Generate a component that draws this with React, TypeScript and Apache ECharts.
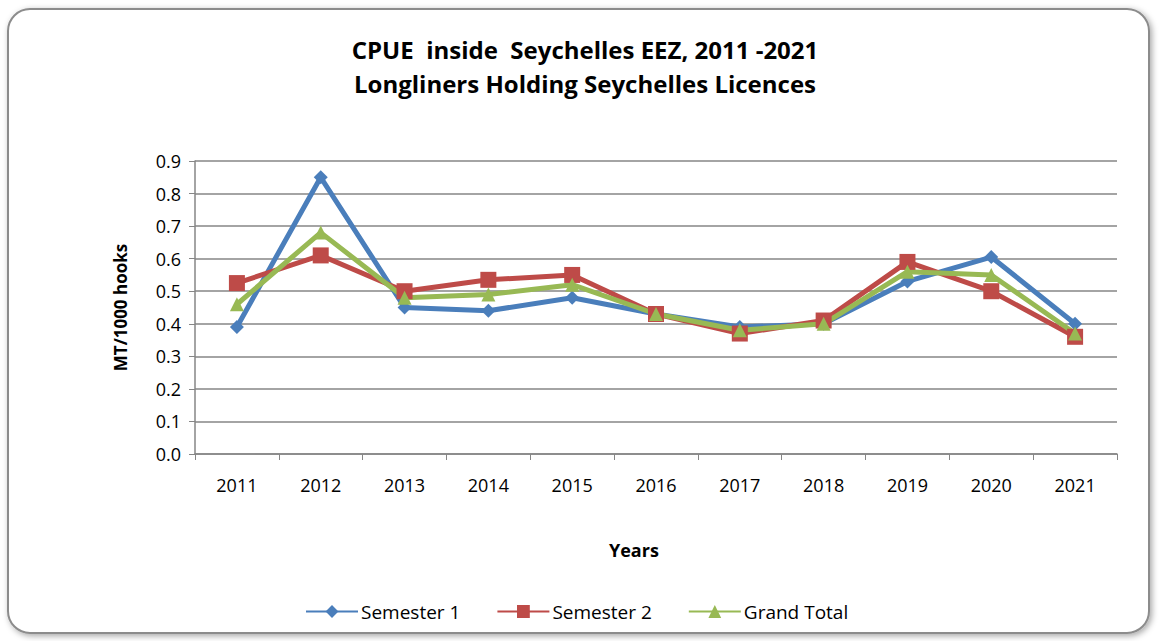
import React, { useEffect, useRef } from "react";
import * as echarts from "echarts";

const years = ["2011", "2012", "2013", "2014", "2015", "2016", "2017", "2018", "2019", "2020", "2021"];
const semester1 = [0.39, 0.85, 0.45, 0.44, 0.48, 0.43, 0.39, 0.40, 0.53, 0.605, 0.40];
const semester2 = [0.525, 0.61, 0.50, 0.535, 0.55, 0.43, 0.37, 0.41, 0.59, 0.50, 0.36];
const grandTotal = [0.46, 0.68, 0.48, 0.49, 0.52, 0.43, 0.38, 0.40, 0.56, 0.55, 0.37];

const FONT = "'Open Sans', 'Liberation Sans', sans-serif";

export default function App() {
  const ref = useRef<HTMLDivElement>(null);
  useEffect(() => {
    document.body.style.margin = "0";
    const chart = echarts.init(ref.current!, undefined, { renderer: "svg" });
    const mkSeries = (name: string, data: number[], color: string, symbol: string, size: number) => ({
      name,
      type: "line",
      data,
      symbol,
      symbolSize: size,
      lineStyle: { color, width: 5 },
      itemStyle: { color },
      z: 3,
    });
    chart.setOption({
      animation: false,
      backgroundColor: "#ffffff",
      graphic: [
        {
          type: "rect",
          shape: { x: 8, y: 9, width: 1141, height: 624, r: 22 },
          style: {
            fill: "#ffffff",
            stroke: "#8c8c8c",
            lineWidth: 2,
            shadowBlur: 6,
            shadowColor: "rgba(0,0,0,0.35)",
            shadowOffsetX: 2,
            shadowOffsetY: 2,
          },
          z: -10,
          silent: true,
        },
        {
          type: "text",
          left: 609,
          top: 541,
          style: { text: "Years", font: `bold 18px ${FONT}`, fill: "#000" },
        },
      ],
      title: {
        text: "CPUE  inside  Seychelles EEZ, 2011 -2021\nLongliners Holding Seychelles Licences",
        left: 580,
        textAlign: "center",
        top: 27,
        textStyle: { fontFamily: FONT, fontWeight: "bold", fontSize: 24, lineHeight: 34, color: "#000" },
      },
      legend: {
        bottom: 15,
        left: 300,
        itemWidth: 52,
        itemHeight: 16,
        itemGap: 36,
        textStyle: { fontFamily: FONT, fontSize: 19, color: "#000", padding: [0, 0, 0, -2] },
        data: ["Semester 1", "Semester 2", "Grand Total"],
      },
      grid: { left: 195, right: 45, top: 161, bottom: 187 },
      xAxis: {
        type: "category",
        data: years,
        boundaryGap: true,
        axisLine: { lineStyle: { color: "#868686", width: 1.5 } },
        axisTick: { show: true, length: 6, lineStyle: { color: "#868686" } },
        axisLabel: { fontFamily: FONT, fontSize: 18, color: "#000", margin: 22 },
      },
      yAxis: {
        type: "value",
        min: 0,
        max: 0.9,
        interval: 0.1,
        name: "MT/1000 hooks",
        nameLocation: "middle",
        nameGap: 66,
        nameTextStyle: { fontFamily: FONT, fontSize: 17, fontWeight: "bold", color: "#000" },
        axisLine: { show: true, lineStyle: { color: "#868686", width: 1.5 } },
        axisTick: { show: true, length: 6, lineStyle: { color: "#868686" } },
        splitLine: { lineStyle: { color: "#868686", width: 1.5 } },
        axisLabel: {
          fontFamily: FONT,
          fontSize: 18,
          color: "#000",
          margin: 14,
          formatter: (v: number) => v.toFixed(1),
        },
      },
      series: [
        mkSeries("Semester 1", semester1, "#4a7ebb", "diamond", 14),
        mkSeries("Semester 2", semester2, "#be4b48", "rect", 16),
        mkSeries("Grand Total", grandTotal, "#98b954", "triangle", 14),
      ],
    });
    return () => chart.dispose();
  }, []);
  return <div ref={ref} style={{ width: 1162, height: 641 }} />;
}
